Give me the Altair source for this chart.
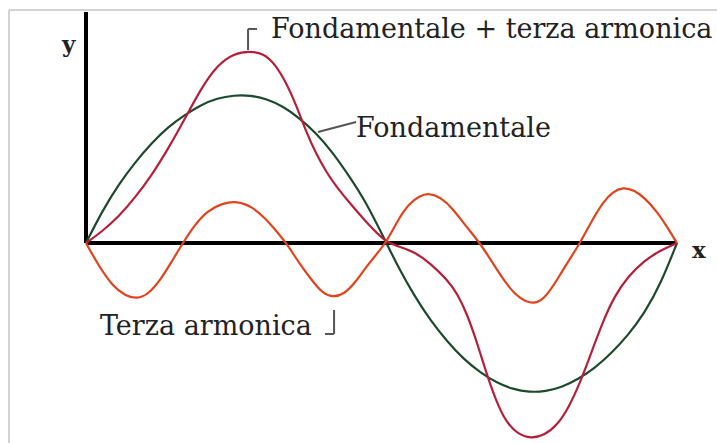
import altair as alt
import pandas as pd

# Phase (degrees over one period) and amplitude of each waveform
fond_x = [0, 10, 20, 30, 40, 50, 60, 70, 80, 90, 100, 110, 120, 130, 140, 150,
          160, 170, 183, 190, 200, 210, 220, 230, 240, 250, 260, 270, 280, 290,
          300, 310, 320, 330, 340, 350, 360]
fond_y = [0, 0.22, 0.40, 0.55, 0.68, 0.79, 0.87, 0.94, 0.985, 1.005, 1.005,
          0.98, 0.93, 0.85, 0.75, 0.62, 0.46, 0.29, 0, -0.16, -0.36, -0.53,
          -0.67, -0.79, -0.88, -0.95, -0.995, -1.015, -1.01, -0.98, -0.925,
          -0.85, -0.75, -0.63, -0.48, -0.28, 0]

somma_x = [0, 10, 20, 30, 40, 50, 60, 70, 80, 90, 100, 108, 115, 122, 128, 134,
           140, 146, 152, 160, 170, 183, 190, 200, 210, 220, 226, 232, 238, 244,
           250, 256, 263, 271, 279, 287, 294, 301, 308, 315, 322, 330, 340, 350,
           360]
somma_y = [0, 0.08, 0.18, 0.31, 0.46, 0.64, 0.84, 1.05, 1.21, 1.29, 1.305,
           1.29, 1.22, 1.09, 0.94, 0.76, 0.61, 0.49, 0.39, 0.28, 0.15, 0, -0.02,
           -0.06, -0.14, -0.25, -0.34, -0.48, -0.67, -0.89, -1.08, -1.22,
           -1.30, -1.33, -1.31, -1.24, -1.12, -0.95, -0.74, -0.53, -0.36,
           -0.23, -0.12, -0.05, 0]

terza_x = [0, 8, 16, 24, 31, 38, 46, 52, 59, 66, 74, 83, 92, 101, 110, 116,
           122, 130, 138, 144, 150, 157, 164, 172, 183, 190, 197, 203, 209, 216,
           223, 231, 240, 248, 256, 264, 273, 280, 287, 294, 301, 308, 315, 321,
           327, 334, 341, 348, 354, 360]
terza_y = [0, -0.16, -0.29, -0.36, -0.38, -0.35, -0.24, -0.13, 0, 0.12, 0.22,
           0.27, 0.285, 0.25, 0.16, 0.08, 0, -0.14, -0.26, -0.34, -0.37, -0.35,
           -0.27, -0.14, 0, 0.16, 0.27, 0.32, 0.34, 0.31, 0.24, 0.12, 0, -0.14,
           -0.28, -0.38, -0.42, -0.37, -0.25, -0.12, 0, 0.15, 0.28, 0.35, 0.38,
           0.36, 0.30, 0.21, 0.11, 0]

series = ["Fondamentale", "Fondamentale + terza armonica", "Terza armonica"]
colors = ["#1d4a2c", "#b51f3a", "#e2431c"]

rows = []
for name, xs, ys in [(series[0], fond_x, fond_y),
                     (series[1], somma_x, somma_y),
                     (series[2], terza_x, terza_y)]:
    for i, (a, b) in enumerate(zip(xs, ys)):
        rows.append({"serie": name, "fase": a, "valore": b, "ordine": i})
waves = pd.DataFrame(rows)

X = alt.Scale(domain=[-52.39, 384.36], zero=False, nice=False)
Y = alt.Scale(domain=[-1.3605, 1.653], zero=False, nice=False)
FONT = "DejaVu Serif"

curves = alt.Chart(waves).mark_line(
    strokeWidth=2.2, interpolate="basis"
).encode(
    x=alt.X("fase:Q", scale=X, axis=None),
    y=alt.Y("valore:Q", scale=Y, axis=None),
    color=alt.Color("serie:N", scale=alt.Scale(domain=series, range=colors), legend=None),
    order="ordine:Q",
)

# Cartesian axes
axes_df = pd.DataFrame({
    "x": [0, 0], "y": [0, 0], "x2": [0, 360], "y2": [1.571, 0],
})
axes = alt.Chart(axes_df).mark_rule(color="black", strokeWidth=4).encode(
    x=alt.X("x:Q", scale=X, axis=None), y=alt.Y("y:Q", scale=Y, axis=None),
    x2="x2:Q", y2="y2:Q",
)

# Leader lines for the labels
leaders_df = pd.DataFrame({
    "x":  [98.7, 98.7, 141.3, 151.1, 145.6],
    "y":  [1.313, 1.456, 0.755, -0.456, -0.619],
    "x2": [98.7, 104.2, 164.5, 151.1, 151.1],
    "y2": [1.456, 1.456, 0.823, -0.619, -0.619],
})
leaders = alt.Chart(leaders_df).mark_rule(color="#555555", strokeWidth=2).encode(
    x=alt.X("x:Q", scale=X, axis=None), y=alt.Y("y:Q", scale=Y, axis=None),
    x2="x2:Q", y2="y2:Q",
)

labels_df = pd.DataFrame({
    "testo": ["Fondamentale + terza armonica", "Fondamentale", "Terza armonica"],
    "x": [112.7, 164.5, 8.5],
    "y": [1.395, 0.721, -0.626],
})
labels = alt.Chart(labels_df).mark_text(
    font=FONT, fontSize=27, align="left", baseline="alphabetic", color="#222222"
).encode(
    x=alt.X("x:Q", scale=X, axis=None), y=alt.Y("y:Q", scale=Y, axis=None),
    text="testo:N",
)

axis_names_df = pd.DataFrame({"testo": ["y", "x"], "x": [-14.6, 369.1], "y": [1.30, -0.102]})
axis_names = alt.Chart(axis_names_df).mark_text(
    font=FONT, fontSize=23, fontWeight="bold", align="left", baseline="alphabetic",
    color="#222222"
).encode(
    x=alt.X("x:Q", scale=X, axis=None), y=alt.Y("y:Q", scale=Y, axis=None),
    text="testo:N",
)

# thin grey frame along the top and left edges
frame_top = alt.Chart(pd.DataFrame({"k": [0]})).mark_rule(color="#c4c4c4", strokeWidth=1.5).encode(
    x=alt.value(9), x2=alt.value(717), y=alt.value(10)
)
frame_left = alt.Chart(pd.DataFrame({"k": [0]})).mark_rule(color="#c4c4c4", strokeWidth=1.5).encode(
    x=alt.value(9), y=alt.value(10), y2=alt.value(443)
)

chart = alt.layer(
    frame_top, frame_left, axes, curves, leaders, labels, axis_names
).properties(
    width=717, height=443, padding=0, autosize="none", background="white"
).configure_view(stroke=None)

chart.save("out.html", embed_options={"renderer": "svg", "actions": False})
